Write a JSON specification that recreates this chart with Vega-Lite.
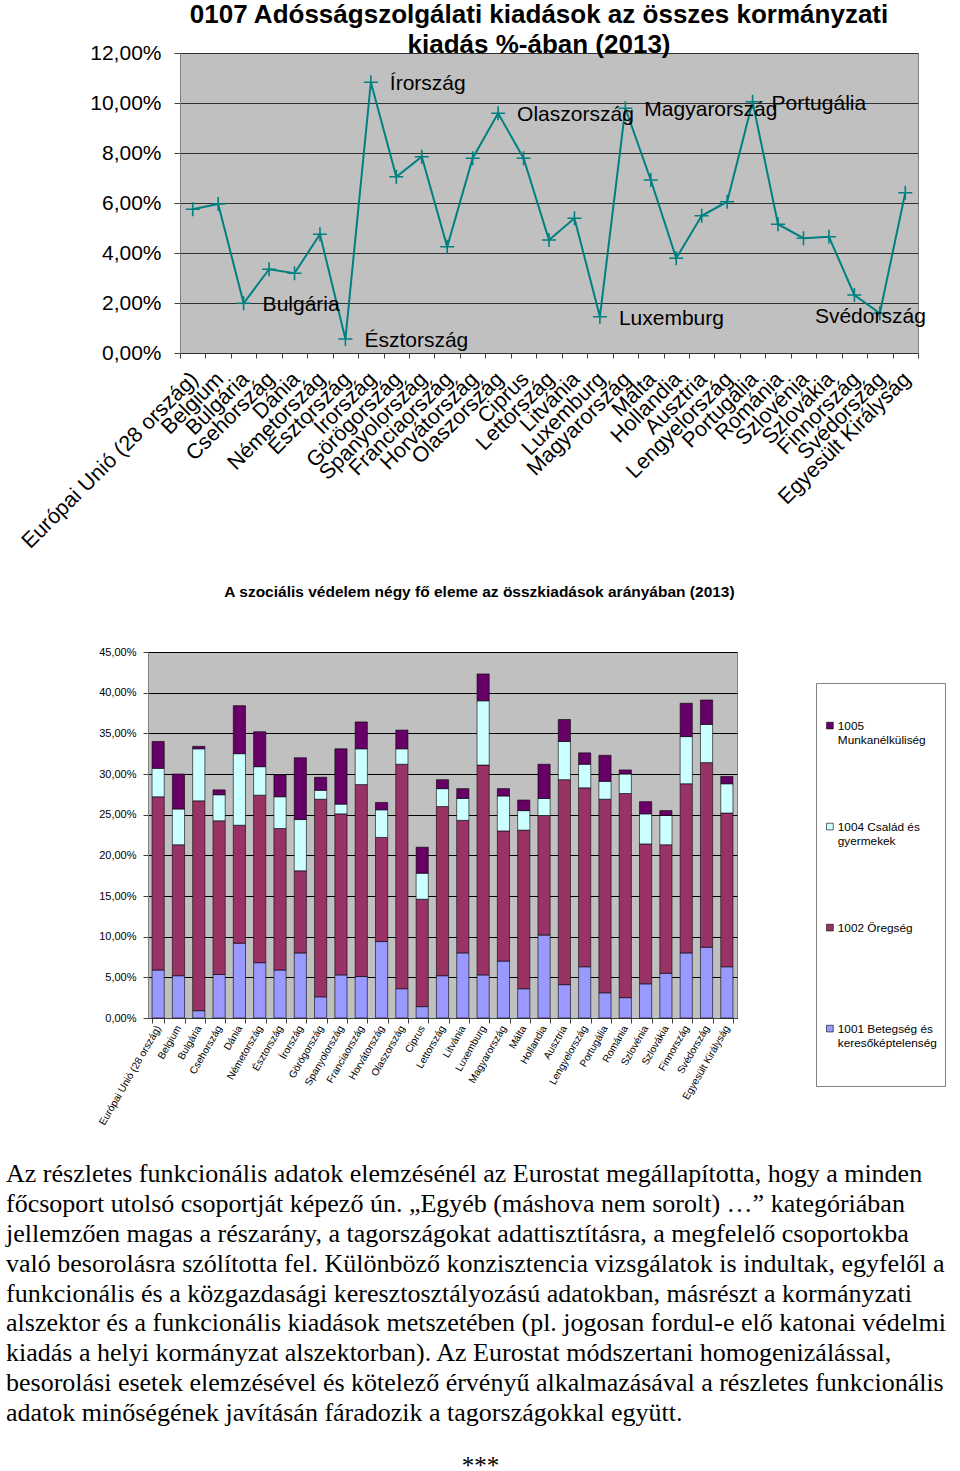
{
  "$schema": "https://vega.github.io/schema/vega-lite/v6.json",
  "padding": {"left": 5, "top": 1, "right": 0, "bottom": 0},
  "background": "white",
  "spacing": 31,
  "resolve": {"scale": {"color": "independent"}, "legend": {"color": "independent"}},
  "config": {
    "font": "Liberation Sans",
    "view": {"stroke": "#808080", "fill": "#c0c0c0"},
    "axis": {"labelColor": "#000", "labelFont": "Liberation Sans", "domainColor": "#404040", "tickColor": "#404040", "gridColor": "#303030", "gridOpacity": 1, "labelOverlap": false, "labelLimit": 400},
    "title": {"color": "#000", "font": "Liberation Sans"}
  },
  "datasets": {
    "adossag": [
      {"orszag": "Európai Unió (28 ország)", "ertek": 5.75},
      {"orszag": "Belgium", "ertek": 5.96},
      {"orszag": "Bulgária", "ertek": 1.99},
      {"orszag": "Csehország", "ertek": 3.35},
      {"orszag": "Dánia", "ertek": 3.19},
      {"orszag": "Németország", "ertek": 4.75},
      {"orszag": "Észtország", "ertek": 0.56},
      {"orszag": "Írország", "ertek": 10.83},
      {"orszag": "Görögország", "ertek": 7.05},
      {"orszag": "Spanyolország", "ertek": 7.85},
      {"orszag": "Franciaország", "ertek": 4.25},
      {"orszag": "Horvátország", "ertek": 7.79},
      {"orszag": "Olaszország", "ertek": 9.59},
      {"orszag": "Ciprus", "ertek": 7.79},
      {"orszag": "Lettország", "ertek": 4.52},
      {"orszag": "Litvánia", "ertek": 5.39},
      {"orszag": "Luxemburg", "ertek": 1.45},
      {"orszag": "Magyarország", "ertek": 9.79},
      {"orszag": "Málta", "ertek": 6.92},
      {"orszag": "Hollandia", "ertek": 3.79},
      {"orszag": "Ausztria", "ertek": 5.49},
      {"orszag": "Lengyelország", "ertek": 6.05},
      {"orszag": "Portugália", "ertek": 10.05},
      {"orszag": "Románia", "ertek": 5.15},
      {"orszag": "Szlovénia", "ertek": 4.59},
      {"orszag": "Szlovákia", "ertek": 4.65},
      {"orszag": "Finnország", "ertek": 2.32},
      {"orszag": "Svédország", "ertek": 1.59},
      {"orszag": "Egyesült Királyság", "ertek": 6.41}
    ],
    "szocialis": [
      {"orszag": "Európai Unió (28 ország)", "1001 Betegség és keresőképtelenség": 5.9, "1002 Öregség": 21.3, "1004 Család és gyermekek": 3.5, "1005 Munkanélküliség": 3.3},
      {"orszag": "Belgium", "1001 Betegség és keresőképtelenség": 5.2, "1002 Öregség": 16.1, "1004 Család és gyermekek": 4.4, "1005 Munkanélküliség": 4.3},
      {"orszag": "Bulgária", "1001 Betegség és keresőképtelenség": 0.9, "1002 Öregség": 25.8, "1004 Család és gyermekek": 6.4, "1005 Munkanélküliség": 0.3},
      {"orszag": "Csehország", "1001 Betegség és keresőképtelenség": 5.35, "1002 Öregség": 18.9, "1004 Család és gyermekek": 3.2, "1005 Munkanélküliség": 0.6},
      {"orszag": "Dánia", "1001 Betegség és keresőképtelenség": 9.2, "1002 Öregség": 14.5, "1004 Család és gyermekek": 8.8, "1005 Munkanélküliség": 5.9},
      {"orszag": "Németország", "1001 Betegség és keresőképtelenség": 6.8, "1002 Öregség": 20.6, "1004 Család és gyermekek": 3.5, "1005 Munkanélküliség": 4.3},
      {"orszag": "Észtország", "1001 Betegség és keresőképtelenség": 5.9, "1002 Öregség": 17.4, "1004 Család és gyermekek": 3.9, "1005 Munkanélküliség": 2.7},
      {"orszag": "Írország", "1001 Betegség és keresőképtelenség": 8.0, "1002 Öregség": 10.1, "1004 Család és gyermekek": 6.3, "1005 Munkanélküliség": 7.6},
      {"orszag": "Görögország", "1001 Betegség és keresőképtelenség": 2.6, "1002 Öregség": 24.3, "1004 Család és gyermekek": 1.1, "1005 Munkanélküliség": 1.6},
      {"orszag": "Spanyolország", "1001 Betegség és keresőképtelenség": 5.3, "1002 Öregség": 19.8, "1004 Család és gyermekek": 1.2, "1005 Munkanélküliség": 6.8},
      {"orszag": "Franciaország", "1001 Betegség és keresőképtelenség": 5.1, "1002 Öregség": 23.6, "1004 Család és gyermekek": 4.4, "1005 Munkanélküliség": 3.3},
      {"orszag": "Horvátország", "1001 Betegség és keresőképtelenség": 9.4, "1002 Öregség": 12.8, "1004 Család és gyermekek": 3.4, "1005 Munkanélküliség": 0.9},
      {"orszag": "Olaszország", "1001 Betegség és keresőképtelenség": 3.6, "1002 Öregség": 27.6, "1004 Család és gyermekek": 1.9, "1005 Munkanélküliség": 2.3},
      {"orszag": "Ciprus", "1001 Betegség és keresőképtelenség": 1.4, "1002 Öregség": 13.2, "1004 Család és gyermekek": 3.2, "1005 Munkanélküliség": 3.2},
      {"orszag": "Lettország", "1001 Betegség és keresőképtelenség": 5.2, "1002 Öregség": 20.8, "1004 Család és gyermekek": 2.2, "1005 Munkanélküliség": 1.1},
      {"orszag": "Litvánia", "1001 Betegség és keresőképtelenség": 8.0, "1002 Öregség": 16.3, "1004 Család és gyermekek": 2.7, "1005 Munkanélküliség": 1.2},
      {"orszag": "Luxemburg", "1001 Betegség és keresőképtelenség": 5.3, "1002 Öregség": 25.8, "1004 Család és gyermekek": 7.9, "1005 Munkanélküliség": 3.3},
      {"orszag": "Magyarország", "1001 Betegség és keresőképtelenség": 7.0, "1002 Öregség": 16.0, "1004 Család és gyermekek": 4.3, "1005 Munkanélküliség": 0.9},
      {"orszag": "Málta", "1001 Betegség és keresőképtelenség": 3.6, "1002 Öregség": 19.5, "1004 Család és gyermekek": 2.4, "1005 Munkanélküliség": 1.3},
      {"orszag": "Hollandia", "1001 Betegség és keresőképtelenség": 10.2, "1002 Öregség": 14.7, "1004 Család és gyermekek": 2.1, "1005 Munkanélküliség": 4.2},
      {"orszag": "Ausztria", "1001 Betegség és keresőképtelenség": 4.1, "1002 Öregség": 25.2, "1004 Család és gyermekek": 4.7, "1005 Munkanélküliség": 2.7},
      {"orszag": "Lengyelország", "1001 Betegség és keresőképtelenség": 6.3, "1002 Öregség": 22.0, "1004 Család és gyermekek": 2.9, "1005 Munkanélküliség": 1.4},
      {"orszag": "Portugália", "1001 Betegség és keresőképtelenség": 3.1, "1002 Öregség": 23.8, "1004 Család és gyermekek": 2.2, "1005 Munkanélküliség": 3.2},
      {"orszag": "Románia", "1001 Betegség és keresőképtelenség": 2.5, "1002 Öregség": 25.1, "1004 Család és gyermekek": 2.4, "1005 Munkanélküliség": 0.5},
      {"orszag": "Szlovénia", "1001 Betegség és keresőképtelenség": 4.2, "1002 Öregség": 17.2, "1004 Család és gyermekek": 3.7, "1005 Munkanélküliség": 1.5},
      {"orszag": "Szlovákia", "1001 Betegség és keresőképtelenség": 5.5, "1002 Öregség": 15.8, "1004 Család és gyermekek": 3.6, "1005 Munkanélküliség": 0.6},
      {"orszag": "Finnország", "1001 Betegség és keresőképtelenség": 8.0, "1002 Öregség": 20.8, "1004 Család és gyermekek": 5.8, "1005 Munkanélküliség": 4.1},
      {"orszag": "Svédország", "1001 Betegség és keresőképtelenség": 8.7, "1002 Öregség": 22.7, "1004 Család és gyermekek": 4.7, "1005 Munkanélküliség": 3.0},
      {"orszag": "Egyesült Királyság", "1001 Betegség és keresőképtelenség": 6.3, "1002 Öregség": 18.9, "1004 Család és gyermekek": 3.6, "1005 Munkanélküliség": 0.9}
    ],
    "szoveg": [
      {"sor": 1, "szoveg": "Az részletes funkcionális adatok elemzésénél az Eurostat megállapította, hogy a minden"},
      {"sor": 2, "szoveg": "főcsoport utolsó csoportját képező ún. „Egyéb (máshova nem sorolt) …” kategóriában"},
      {"sor": 3, "szoveg": "jellemzően magas a részarány, a tagországokat adattisztításra, a megfelelő csoportokba"},
      {"sor": 4, "szoveg": "való besorolásra szólította fel. Különböző konzisztencia vizsgálatok is indultak, egyfelől a"},
      {"sor": 5, "szoveg": "funkcionális és a közgazdasági keresztosztályozású adatokban, másrészt a kormányzati"},
      {"sor": 6, "szoveg": "alszektor és a funkcionális kiadások metszetében (pl. jogosan fordul-e elő katonai védelmi"},
      {"sor": 7, "szoveg": "kiadás a helyi kormányzat alszektorban). Az Eurostat módszertani homogenizálással,"},
      {"sor": 8, "szoveg": "besorolási esetek elemzésével és kötelező érvényű alkalmazásával a részletes funkcionális"},
      {"sor": 9, "szoveg": "adatok minőségének javításán fáradozik a tagországokkal együtt."}
    ]
  },
  "vconcat": [
    {
      "spacing": 0,
      "hconcat": [
        {"width": 1, "height": 1, "view": {"stroke": "transparent", "fill": "transparent"}, "data": {"values": []}, "mark": "point"},
        {
          "width": 738,
          "height": 300,
          "title": {"text": ["0107 Adósságszolgálati kiadások az összes kormányzati", "kiadás %-ában (2013)"], "fontSize": 26, "fontWeight": "bold", "lineHeight": 30, "frame": "group", "anchor": "middle", "dx": -10, "offset": -16},
          "data": {"name": "adossag"},
          "encoding": {
            "x": {"field": "orszag", "type": "nominal", "sort": null, "scale": {"type": "band", "paddingInner": 0, "paddingOuter": 0},
              "axis": {"title": null, "labelAngle": -45, "labelFontSize": 21.5, "tickBand": "extent", "tickSize": 5, "labelPadding": 10, "labelOffset": -6, "domain": false}},
            "y": {"field": "ertek", "type": "quantitative", "scale": {"domain": [0, 12]},
              "axis": {"title": null, "values": [0, 2, 4, 6, 8, 10, 12], "labelExpr": "replace(format(datum.value, '.2f'), '.', ',') + '%'", "labelFontSize": 21, "labelPadding": 13, "tickSize": 6, "domainColor": "#808080", "minExtent": 171}}
          },
          "layer": [
            {"mark": {"type": "line", "color": "#008080", "strokeWidth": 2}},
            {"mark": {"type": "point", "shape": "M-1,0L1,0M0,-1L0,1", "filled": false, "size": 196, "color": "#008080", "strokeWidth": 1.6, "opacity": 1}},
            {"transform": [{"filter": {"field": "orszag", "oneOf": ["Bulgária", "Észtország", "Írország", "Olaszország", "Luxemburg", "Magyarország", "Portugália"]}}],
              "mark": {"type": "text", "align": "left", "baseline": "middle", "dx": 19, "dy": 2, "fontSize": 21, "color": "#000"},
              "encoding": {"text": {"field": "orszag"}}},
            {"transform": [{"filter": {"field": "orszag", "equal": "Svédország"}}],
              "mark": {"type": "text", "align": "right", "baseline": "middle", "dx": 46, "dy": 4, "fontSize": 21, "color": "#000"},
              "encoding": {"text": {"field": "orszag"}}}
          ]
        }
      ]
    },
    {
      "spacing": 0,
      "resolve": {"scale": {"color": "independent"}, "legend": {"color": "independent"}},
      "hconcat": [
        {"width": 1, "height": 1, "view": {"stroke": "transparent", "fill": "transparent"}, "data": {"values": []}, "mark": "point"},
        {
          "width": 589,
          "height": 366,
          "title": {"text": "A szociális védelem négy fő eleme az összkiadások arányában (2013)", "fontSize": 15.5, "fontWeight": "bold", "frame": "group", "anchor": "middle", "dx": 37, "offset": 46},
          "data": {"name": "szocialis"},
          "transform": [{"fold": ["1001 Betegség és keresőképtelenség", "1002 Öregség", "1004 Család és gyermekek", "1005 Munkanélküliség"], "as": ["elem", "arany"]}],
          "mark": {"type": "bar", "stroke": "#000", "strokeWidth": 0.6},
          "encoding": {
            "x": {"field": "orszag", "type": "nominal", "sort": null, "scale": {"paddingInner": 0.4, "paddingOuter": 0.2},
              "axis": {"title": null, "labelAngle": -60, "labelFontSize": 10.2, "tickBand": "extent", "tickSize": 5, "labelPadding": 3, "domainColor": "#404040"}},
            "y": {"field": "arany", "type": "quantitative", "stack": "zero", "scale": {"domain": [0, 45]},
              "axis": {"title": null, "values": [0, 5, 10, 15, 20, 25, 30, 35, 40, 45], "labelExpr": "replace(format(datum.value, '.2f'), '.', ',') + '%'", "labelFontSize": 11, "labelPadding": 7, "tickSize": 5, "gridColor": "#000", "domainColor": "#808080", "minExtent": 139}},
            "color": {"field": "elem", "type": "nominal",
              "scale": {"domain": ["1005 Munkanélküliség", "1004 Család és gyermekek", "1002 Öregség", "1001 Betegség és keresőképtelenség"], "range": ["#660066", "#ccffff", "#993366", "#9999ff"]},
              "legend": {"orient": "none", "legendX": 668, "legendY": 31, "title": " ", "titleFontSize": 11, "titlePadding": 13, "padding": 8, "strokeColor": "#808080", "fillColor": "#ffffff",
                "symbolType": "M-1,0.4H1V2.4H-1Z", "symbolSize": 45, "symbolStrokeColor": "#000", "symbolStrokeWidth": 0.6, "symbolOpacity": 1,
                "labelFontSize": 11.8, "labelColor": "#000", "labelBaseline": "top", "labelOffset": 2, "labelLimit": 300, "rowPadding": 41,
                "labelExpr": "datum.label == '1005 Munkanélküliség' ? ['1005', 'Munkanélküliség', ' ', ' '] : datum.label == '1004 Család és gyermekek' ? ['1004 Család és', 'gyermekek', ' ', ' '] : datum.label == '1001 Betegség és keresőképtelenség' ? ['1001 Betegség és', 'keresőképtelenség', ' ', ' '] : [datum.label, ' ', ' ', ' ']"}},
            "order": {"field": "elem", "sort": "ascending"}
          }
        }
      ]
    },
    {
      "width": 949,
      "height": 269,
      "view": {"stroke": null, "fill": null},
      "title": {"text": "***", "orient": "bottom", "font": "Liberation Serif", "fontSize": 25, "fontWeight": "normal", "anchor": "middle", "frame": "group", "offset": 26},
      "data": {"name": "szoveg"},
      "mark": {"type": "text", "align": "left", "baseline": "middle", "font": "Liberation Serif", "fontSize": 26, "color": "#000"},
      "encoding": {
        "x": {"datum": 0, "type": "quantitative", "scale": {"domain": [0, 1]}, "axis": null},
        "y": {"field": "sor", "type": "quantitative", "scale": {"domain": [0.5, 9.5], "reverse": true}, "axis": null},
        "text": {"field": "szoveg"}
      }
    }
  ]
}
